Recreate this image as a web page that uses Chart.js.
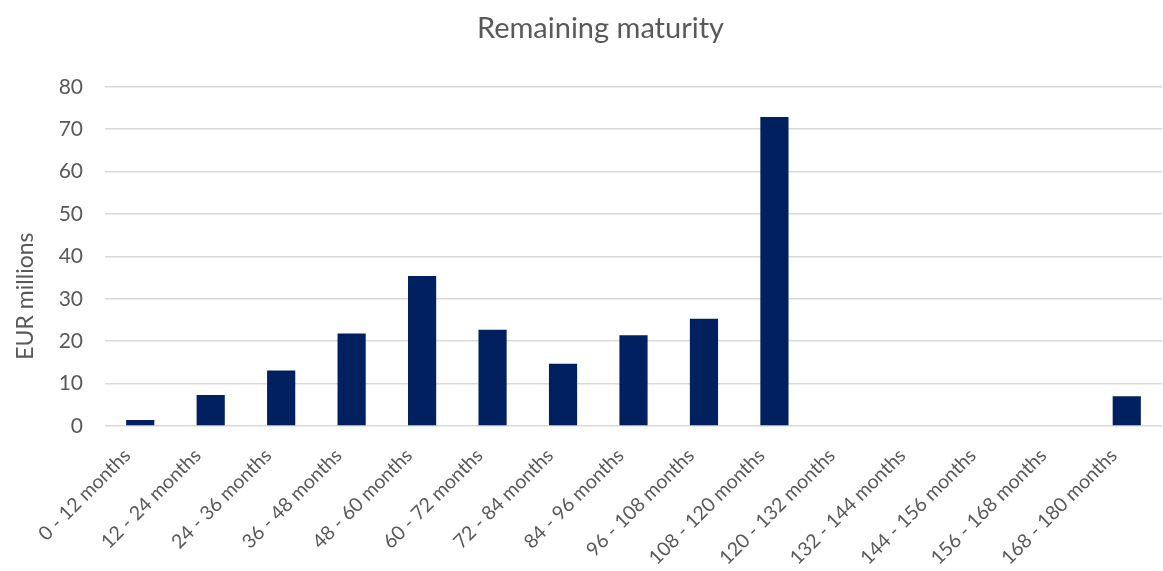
<!DOCTYPE html>
<html>
<head>
<meta charset="utf-8">
<script src="https://cdn.jsdelivr.net/npm/chart.js@4"></script>
<style>
html,body{margin:0;padding:0;background:#fff;}
#wrap{width:1163px;height:571px;position:relative;}
</style>
</head>
<body>
<div id="wrap"><canvas id="c" width="1163" height="571"></canvas></div>
<script>
const categories = ["0 - 12 months","12 - 24 months","24 - 36 months","36 - 48 months","48 - 60 months","60 - 72 months","72 - 84 months","84 - 96 months","96 - 108 months","108 - 120 months","120 - 132 months","132 - 144 months","144 - 156 months","156 - 168 months","168 - 180 months"];
const values = [1.4, 7.3, 13.1, 21.8, 35.4, 22.7, 14.7, 21.4, 25.3, 72.9, 0, 0, 0, 0, 7.0];
const yTicks = [0,10,20,30,40,50,60,70,80];
const titleText = "Remaining maturity";
const yTitle = "EUR millions";

const FONT = "Lato, 'Open Sans', sans-serif";
const GREY = "#595959";

// shift the title box slightly right; draw the y-axis title lower than centre
const layoutTweaks = {
  id: 'layoutTweaks',
  afterLayout(chart) {
    const t = chart.titleBlock;
    if (t) { t.left += 26; }
  },
  afterDraw(chart) {
    const ctx = chart.ctx;
    const area = chart.chartArea;
    ctx.save();
    ctx.fillStyle = GREY;
    ctx.font = "23px " + FONT;
    ctx.textAlign = 'center';
    ctx.textBaseline = 'middle';
    ctx.translate(26, area.top + (area.bottom - area.top) * 0.617);
    ctx.rotate(-Math.PI / 2);
    ctx.fillText(yTitle, 0, 0);
    ctx.restore();
  }
};

new Chart(document.getElementById('c'), {
  type: 'bar',
  data: {
    labels: categories,
    datasets: [{
      data: values,
      backgroundColor: '#002060',
      borderWidth: 0,
      barPercentage: 0.4,
      categoryPercentage: 1.0
    }]
  },
  options: {
    responsive: false,
    animation: false,
    layout: { padding: { left: 13, right: 1, top: 0, bottom: 0 } },
    plugins: {
      legend: { display: false },
      tooltip: { enabled: false },
      title: {
        display: true,
        text: titleText,
        color: GREY,
        font: { family: FONT, size: 29, weight: 'normal' },
        padding: { top: 11, bottom: 41 }
      }
    },
    scales: {
      x: {
        grid: { display: false },
        border: { display: false },
        ticks: {
          color: GREY,
          font: { family: FONT, size: 19.5 },
          maxRotation: 45,
          minRotation: 45,
          autoSkip: false,
          padding: 10,
          labelOffset: -13
        },
        afterFit: (s) => { s.height = 145; }
      },
      y: {
        min: 0,
        max: 80,
        afterBuildTicks: (s) => { s.ticks = yTicks.map(v => ({ value: v })); },
        grid: { color: '#d9d9d9', lineWidth: 1.5, drawTicks: false },
        border: { display: false },
        ticks: {
          color: GREY,
          font: { family: FONT, size: 21 },
          padding: 22
        },
        afterFit: (s) => { s.width = 92; }
      }
    }
  },
  plugins: [layoutTweaks]
});
</script>
</body>
</html>
